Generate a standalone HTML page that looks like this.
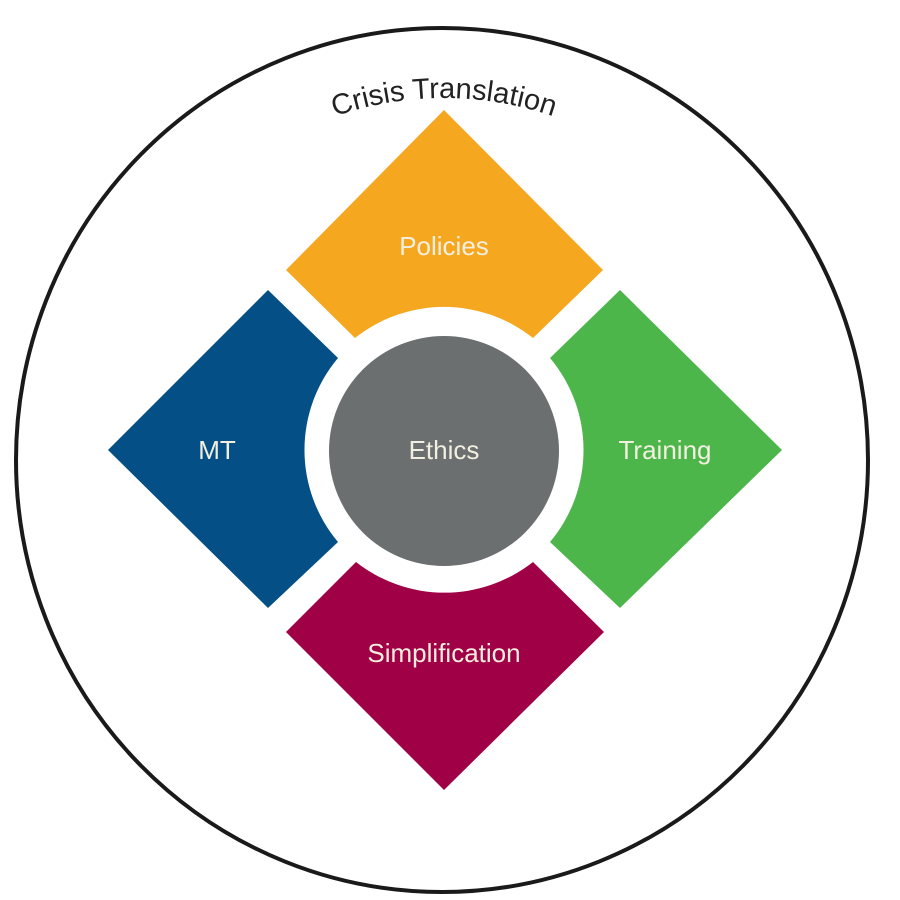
<!DOCTYPE html>
<html><head><style>html,body{margin:0;padding:0;background:#fff;}svg{display:block}</style></head>
<body>
<svg width="900" height="900" viewBox="0 0 900 900" xmlns="http://www.w3.org/2000/svg">
<rect width="900" height="900" fill="#fff"/>
<ellipse cx="442" cy="460" rx="426" ry="432" fill="none" stroke="#1a1a1a" stroke-width="4"/>
<defs><path id="arc" d="M 92 470 A 352 372 0 0 1 796 470"/></defs>
<text font-family="Liberation Sans, sans-serif" font-size="29" fill="#222"><textPath href="#arc" startOffset="50%" text-anchor="middle">Crisis Translation</textPath></text>
<path d="M 286 270 L 444 110 L 603 270 L 533 338 A 143 143 0 0 0 355 338 Z" fill="#F4A71F"/>
<path d="M 268 290 L 338 358 A 143 143 0 0 0 338 542 L 268 608 L 108 450 Z" fill="#044F86"/>
<path d="M 620 290 L 782 450 L 620 608 L 550 542 A 143 143 0 0 0 550 358 Z" fill="#4DB64B"/>
<path d="M 286 632 L 356 562 A 143 143 0 0 0 533 562 L 604 632 L 444 790 Z" fill="#A00045"/>
<circle cx="444" cy="451" r="115" fill="#6B6F70"/>
<g font-family="Liberation Sans, sans-serif" font-size="26" fill="#f3efe0" text-anchor="middle">
<text x="444" y="255">Policies</text>
<text x="217" y="459">MT</text>
<text x="444" y="459">Ethics</text>
<text x="665" y="459">Training</text>
<text x="444" y="662">Simplification</text>
</g>
</svg>
</body></html>
